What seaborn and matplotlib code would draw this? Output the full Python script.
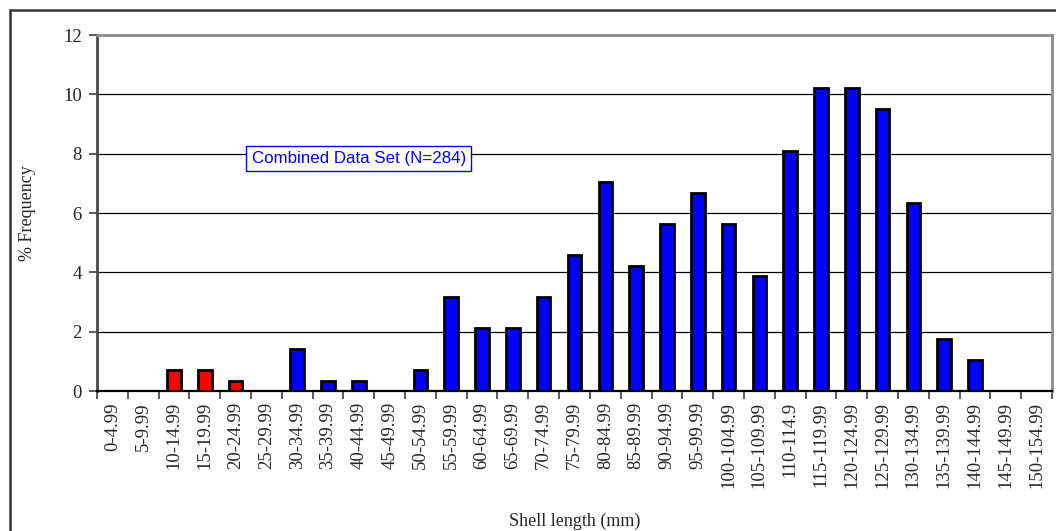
import numpy as np
import matplotlib
matplotlib.use("Agg")
import matplotlib.pyplot as plt
import seaborn as sns
from matplotlib.patches import Rectangle
from matplotlib.ticker import FixedLocator

# Datos: frecuencia (%) por clase de longitud de concha
categories = ["0-4.99", "5-9.99", "10-14.99", "15-19.99", "20-24.99", "25-29.99",
              "30-34.99", "35-39.99", "40-44.99", "45-49.99", "50-54.99", "55-59.99",
              "60-64.99", "65-69.99", "70-74.99", "75-79.99", "80-84.99", "85-89.99",
              "90-94.99", "95-99.99", "100-104.99", "105-109.99", "110-114.9",
              "115-119.99", "120-124.99", "125-129.99", "130-134.99", "135-139.99",
              "140-144.99", "145-149.99", "150-154.99"]
frequency = [0, 0, 0.70, 0.70, 0.35, 0, 1.41, 0.35, 0.35, 0, 0.70, 3.17,
             2.11, 2.11, 3.17, 4.58, 7.04, 4.23, 5.63, 6.69, 5.63, 3.87,
             8.10, 10.21, 10.21, 9.51, 6.34, 1.76, 1.06, 0, 0]
red_classes = ["10-14.99", "15-19.99", "20-24.99"]

palette = {c: ("#FF0000" if c in red_classes else "#0000FF") for c in categories}

sns.set_style("white")
plt.rcParams["font.family"] = ["Liberation Serif", "DejaVu Serif"]

fig = plt.figure(figsize=(10.56, 5.31), dpi=100)
ax = fig.add_axes([97 / 1056, 1 - 391 / 531, (1052 - 97) / 1056, (391 - 35) / 531])

sns.barplot(x=categories, y=frequency, hue=categories, palette=palette, legend=False,
            saturation=1, width=0.44, edgecolor="black", linewidth=2, ax=ax, zorder=3)

ax.set_xlim(-0.5, len(categories) - 0.5)
ax.set_ylim(0, 12)
ax.set_yticks(np.arange(0, 13, 2))
ax.yaxis.grid(True, color="black", linewidth=0.9)
ax.set_axisbelow(True)

# ticks del eje x entre categorias
ax.xaxis.set_minor_locator(FixedLocator(np.arange(-0.5, len(categories), 1)))
ax.tick_params(axis="x", which="major", length=0, pad=8, labelsize=13.5, labelrotation=90)
ax.tick_params(axis="x", which="minor", length=6, width=1.2, color="#404040", bottom=True)
ax.tick_params(axis="y", length=6, width=1.2, color="#404040", labelsize=13.5, left=True,
               pad=5)

for side in ["top", "right"]:
    ax.spines[side].set_color("#8c8c8c")
    ax.spines[side].set_linewidth(2)
ax.spines["left"].set_color("#4a4a4a")
ax.spines["left"].set_linewidth(2)
ax.spines["bottom"].set_color("black")
ax.spines["bottom"].set_linewidth(1.6)

ax.set_xlabel("Shell length (mm)", fontsize=13)
ax.set_ylabel("% Frequency", fontsize=13)
ax.xaxis.set_label_coords(0.5, (391 - 521) / 356)
ax.yaxis.set_label_coords((28 - 97) / 955, 0.5)
ax.xaxis.label.set_va("center")
ax.yaxis.label.set_va("center")

ax.text(0.274, 0.654, "Combined Data Set (N=284)", transform=ax.transAxes,
        ha="center", va="center", color="#0000FF", fontsize=12.2,
        family=["Liberation Sans", "DejaVu Sans"],
        bbox=dict(boxstyle="square,pad=0.3", fc="white", ec="#0000FF", lw=1))

# marco exterior del grafico
fig.add_artist(Rectangle((10 / 1056, -0.2), 1.2, 1 - 10 / 531 + 0.2,
                         transform=fig.transFigure, fill=False, lw=1.8, ec="#333333"))

plt.savefig("out.png", dpi=100)
